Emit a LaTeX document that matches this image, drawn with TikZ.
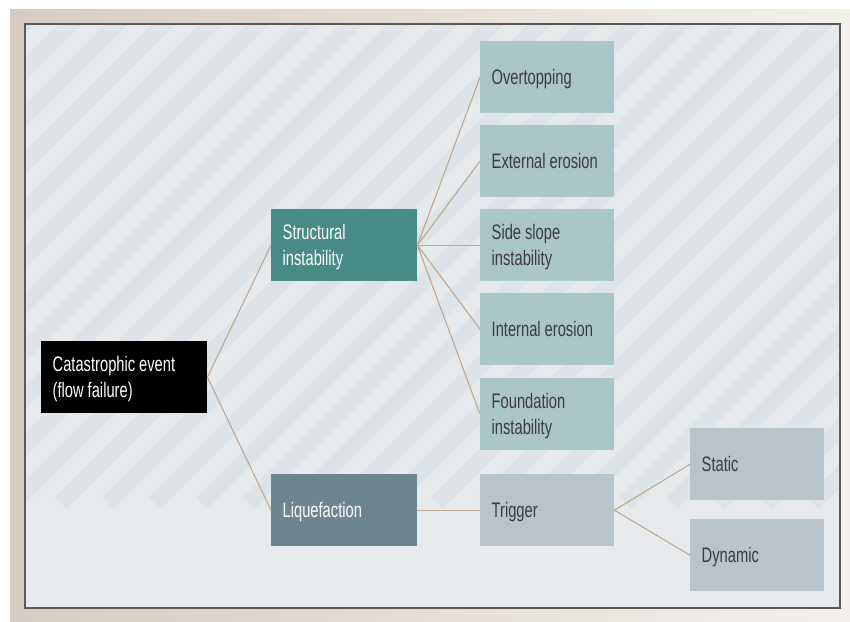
\documentclass[tikz,border=0pt]{standalone}
\usepackage{fontspec}
\setmainfont{Liberation Sans}[FakeStretch=0.70]
\definecolor{beigeL}{HTML}{D6CCC1}
\definecolor{beigeR}{HTML}{F3F0EC}
\definecolor{panel}{HTML}{E6EAED}
\definecolor{stripe}{HTML}{DDE3E6}
\definecolor{frame}{HTML}{5A5A5A}
\definecolor{conn}{HTML}{BFA890}
\definecolor{tealD}{HTML}{478A86}
\definecolor{slateD}{HTML}{6D8591}
\definecolor{tealL}{HTML}{ABC6C7}
\definecolor{greyL}{HTML}{B8C4CA}
\definecolor{txt}{HTML}{3C3C3C}
\newcommand\narrowspace{\spaceskip=4pt plus 1pt minus 1pt\relax}
\newcommand\toplift{\narrowspace\rule{0pt}{18.5pt}}
\tikzset{
  box/.style={anchor=north west, minimum height=72pt, inner xsep=11.5pt, inner ysep=0pt,
    align=left, font=\fontsize{21}{26}\selectfont},
  one/.style={text height=19pt, text depth=4.5pt, execute at begin node=\narrowspace},
  two/.style={execute at begin node=\toplift},
  wide/.style={box, minimum width=166pt, text width=143pt},
  mid/.style={box, minimum width=146pt, text width=123pt},
  small/.style={box, minimum width=134pt, text width=111pt},
  link/.style={draw=conn, line width=1.1pt}
}
\begin{document}
\begin{tikzpicture}[x=1pt,y=-1pt]
\useasboundingbox (0,0) rectangle (850,621);
\shade[left color=beigeL, right color=beigeR] (10,9) rectangle (850,621);
\fill[panel] (25,24) rectangle (840,608);
\begin{scope}
\clip (25,24) rectangle (840,608);
\foreach \cx in {-550,-503,...,850}{
  \draw[stripe, line width=16pt] (\cx,503) -- ++(700,-700);
}
\end{scope}
\draw[frame, line width=1.5pt] (25,24) rectangle (840,608);

\node[wide, two, fill=black, text=white] (cat) at (41,341) {Catastrophic event\\(flow failure)};
\node[mid, two, fill=tealD, text=white] (str) at (271,209) {Structural\\instability};
\node[mid, one, fill=slateD, text=white] (liq) at (271,474) {Liquefaction};
\node[small, one, fill=tealL, text=txt] (ovr) at (480,41) {Overtopping};
\node[small, one, fill=tealL, text=txt] (ext) at (480,125) {External erosion};
\node[small, two, fill=tealL, text=txt] (sid) at (480,209) {Side slope\\instability};
\node[small, one, fill=tealL, text=txt] (int) at (480,293) {Internal erosion};
\node[small, two, fill=tealL, text=txt] (fnd) at (480,378) {Foundation\\instability};
\node[small, one, fill=greyL, text=txt] (trg) at (480,474) {Trigger};
\node[small, one, fill=greyL, text=txt] (sta) at (690,428) {Static};
\node[small, one, fill=greyL, text=txt] (dyn) at (690,519) {Dynamic};

\draw[link] (cat.east) -- (str.west);
\draw[link] (cat.east) -- (liq.west);
\foreach \t in {ovr,ext,sid,int,fnd}{\draw[link] (str.east) -- (\t.west);}
\draw[link] (liq.east) -- (trg.west);
\draw[link] (trg.east) -- (sta.west);
\draw[link] (trg.east) -- (dyn.west);
\end{tikzpicture}
\end{document}
